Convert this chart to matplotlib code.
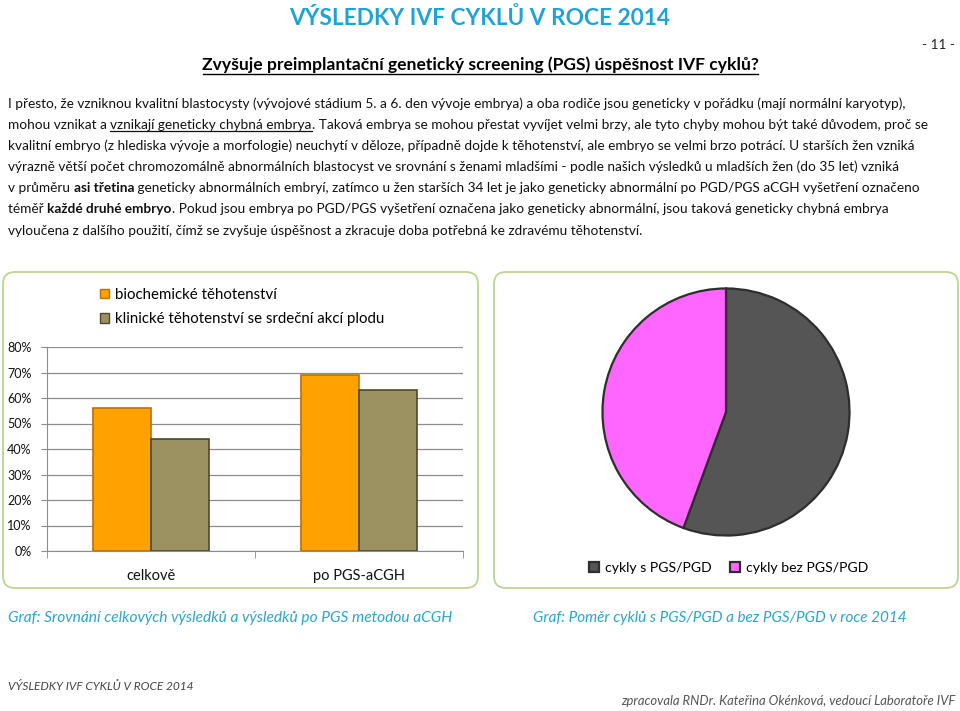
import numpy as np
import matplotlib
matplotlib.use('Agg')
import matplotlib.pyplot as plt
from matplotlib.patches import FancyBboxPatch, Patch
from matplotlib.lines import Line2D
from matplotlib.transforms import IdentityTransform
from matplotlib.ticker import PercentFormatter

# ---------------- data ----------------
bar_categories = ['celkově', 'po PGS-aCGH']
bar_series = ['biochemické těhotenství', 'klinické těhotenství se srdeční akcí plodu']
biochem_values = [0.56, 0.69]
klinicke_values = [0.44, 0.63]
y_ticks = [0.0, 0.1, 0.2, 0.3, 0.4, 0.5, 0.6, 0.7, 0.8]

pie_labels = ['cykly s PGS/PGD', 'cykly bez PGS/PGD']
pie_values = [55.6, 44.4]

title = 'VÝSLEDKY IVF CYKLŮ V ROCE 2014'
subtitle = 'Zvyšuje preimplantační genetický screening (PGS) úspěšnost IVF cyklů?'
page_no = '- 11 -'
body_lines = [
    [('I přesto, že vzniknou kvalitní blastocysty (vývojové stádium 5. a 6. den vývoje embrya) a oba rodiče jsou geneticky v pořádku (mají normální karyotyp),', '')],
    [('mohou vznikat a ', ''), ('vznikají geneticky chybná embrya', 'u'),
     ('. Taková embrya se mohou přestat vyvíjet velmi brzy, ale tyto chyby mohou být také důvodem, proč se', '')],
    [('kvalitní embryo (z hlediska vývoje a morfologie) neuchytí v děloze, případně dojde k těhotenství, ale embryo se velmi brzo potrácí. U starších žen vzniká', '')],
    [('výrazně větší počet chromozomálně abnormálních blastocyst ve srovnání s ženami mladšími - podle našich výsledků u mladších žen (do 35 let) vzniká', '')],
    [('v průměru ', ''), ('asi třetina', 'b'),
     (' geneticky abnormálních embryí, zatímco u žen starších 34 let je jako geneticky abnormální po PGD/PGS aCGH vyšetření označeno', '')],
    [('téměř ', ''), ('každé druhé embryo', 'b'),
     ('. Pokud jsou embrya po PGD/PGS vyšetření označena jako geneticky abnormální, jsou taková geneticky chybná embrya', '')],
    [('vyloučena z dalšího použití, čímž se zvyšuje úspěšnost a zkracuje doba potřebná ke zdravému těhotenství.', '')],
]
caption_left = 'Graf: Srovnání celkových výsledků a výsledků po PGS metodou aCGH'
caption_right = 'Graf: Poměr cyklů s PGS/PGD a bez PGS/PGD v roce 2014'
footer_left = 'VÝSLEDKY IVF CYKLŮ V ROCE 2014'
footer_right = 'zpracovala RNDr. Kateřina Okénková, vedoucí Laboratoře IVF'

# ---------------- setup ----------------
plt.rcParams['font.family'] = ['Lato', 'DejaVu Sans']
W, H = 960, 711
fig = plt.figure(figsize=(9.6, 7.11), dpi=100)
fig.patch.set_facecolor('white')
renderer = fig.canvas.get_renderer()


def fx(x):
    return x / W


def fy(y):
    return 1 - y / H


def measure(s, size, **kw):
    t1 = fig.text(0, 0, '|' + s + '|', fontsize=size, **kw)
    t2 = fig.text(0, 0, '||', fontsize=size, **kw)
    w = t1.get_window_extent(renderer).width - t2.get_window_extent(renderer).width
    t1.remove()
    t2.remove()
    return w


def put(x, y, s, width=None, size=10, ha='left', va='center', **kw):
    if width:
        size = size * width / measure(s, size, **kw)
    return fig.text(fx(x), fy(y), s, fontsize=size, ha=ha, va=va, **kw)


# ---------------- header ----------------
TITLE_C = '#1DA3D8'
put(480, 18, title, width=382, ha='center', color=TITLE_C, fontweight='bold')
put(480, 65, subtitle, width=555, ha='center', color='black', fontweight='bold')
fig.add_artist(Line2D([fx(203), fx(758)], [fy(74), fy(74)], color='black', lw=1.0))

# ---------------- body text ----------------
body_size = 10 * 893 / measure(body_lines[0][0][0], 10)
put(955, 45, page_no, size=body_size, ha='right', color='#222222')
base0, step = 107.5, 21.2
for i, line in enumerate(body_lines):
    x = 8
    yb = base0 + i * step
    for s, style in line:
        kw = {'fontweight': 'bold'} if style == 'b' else {}
        w = measure(s, body_size, **kw)
        fig.text(fx(x), fy(yb), s, fontsize=body_size, ha='left', va='baseline',
                 color='#111111', **kw)
        if style == 'u':
            fig.add_artist(Line2D([fx(x), fx(x + w)], [fy(yb + 2.5), fy(yb + 2.5)],
                                  color='#111111', lw=0.9))
        x += w

# ---------------- frames ----------------
FRAME_C = '#BCD68F'
for (x0, x1) in [(3, 478), (494, 958)]:
    fig.add_artist(FancyBboxPatch((x0, H - 588), x1 - x0, 588 - 272,
                                  boxstyle='round,pad=0,rounding_size=12',
                                  transform=IdentityTransform(),
                                  facecolor='none', edgecolor=FRAME_C, lw=1.3))

# ---------------- bar chart ----------------
ORANGE = '#FFA100'
OLIVE = '#9C9160'
ax = fig.add_axes([fx(47), fy(551), (463 - 47) / W, (551 - 347) / H])
xpos = np.arange(len(bar_categories))
bw = 0.28
ax.bar(xpos - bw / 2, biochem_values, bw, color=ORANGE, edgecolor='#B87300', lw=1.2,
       label=bar_series[0], zorder=3)
ax.bar(xpos + bw / 2, klinicke_values, bw, color=OLIVE, edgecolor='#4E4A30', lw=1.2,
       label=bar_series[1], zorder=3)
ax.set_xlim(-0.5, 1.5)
ax.set_ylim(0, 0.8)
ax.set_yticks(y_ticks)
ax.yaxis.set_major_formatter(PercentFormatter(1.0, decimals=0))
ax.set_xticks(xpos, bar_categories)
ax.set_xticks([-0.5, 0.5, 1.5], minor=True)
ax.tick_params(axis='x', which='major', length=0, pad=13, labelsize=10.5, labelcolor='#111111')
ax.tick_params(axis='x', which='minor', length=5, color='#8C8C8C', direction='out')
ax.tick_params(axis='y', length=4, color='#8C8C8C', pad=7, labelsize=9, labelcolor='#111111')
ax.grid(axis='y', color='#8C8C8C', lw=0.9)
ax.set_axisbelow(True)
for sp in ['top', 'right']:
    ax.spines[sp].set_visible(False)
for sp in ['left', 'bottom']:
    ax.spines[sp].set_color('#8C8C8C')
ax.set_facecolor('none')

fig.legend(handles=[Patch(facecolor=ORANGE, edgecolor='#B87300'),
                    Patch(facecolor=OLIVE, edgecolor='#4E4A30')],
           labels=bar_series, loc='upper left', bbox_to_anchor=(fx(100), fy(288)),
           frameon=False, fontsize=10.8, handlelength=0.6, handleheight=0.6,
           handletextpad=0.4, labelspacing=0.68, borderpad=0, borderaxespad=0)

# ---------------- pie chart ----------------
PIE_COLORS = ['#555555', '#FF66FF']
R = 126
cx, cy = 726, 412
pax = fig.add_axes([fx(cx - R), fy(cy + R), 2 * R / W, 2 * R / H])
wedges, _ = pax.pie(pie_values, colors=PIE_COLORS, startangle=90, counterclock=False,
                    radius=1.0, wedgeprops=dict(edgecolor='#2E2E2E', linewidth=1.6))
pax.set_xlim(-1.02, 1.02)
pax.set_ylim(-1.02, 1.02)
pax.set_aspect('equal')
pax.axis('off')

fig.legend(handles=wedges, labels=pie_labels, loc='center left',
           bbox_to_anchor=(fx(589), fy(568)), ncol=2, frameon=False, fontsize=10.1,
           handlelength=0.7, handleheight=0.7, handletextpad=0.45, columnspacing=1.3,
           borderpad=0, borderaxespad=0)

# ---------------- captions / footer ----------------
CAP_C = '#2AA6CC'
put(8, 618, caption_left, width=447, color=CAP_C, fontstyle='italic')
put(533, 618, caption_right, width=374, color=CAP_C, fontstyle='italic')
put(8, 686, footer_left, width=187, color='#444444', fontstyle='italic')
put(955, 701, footer_right, width=336, ha='right', color='#555555', fontstyle='italic')

fig.savefig('out.png', dpi=100)
